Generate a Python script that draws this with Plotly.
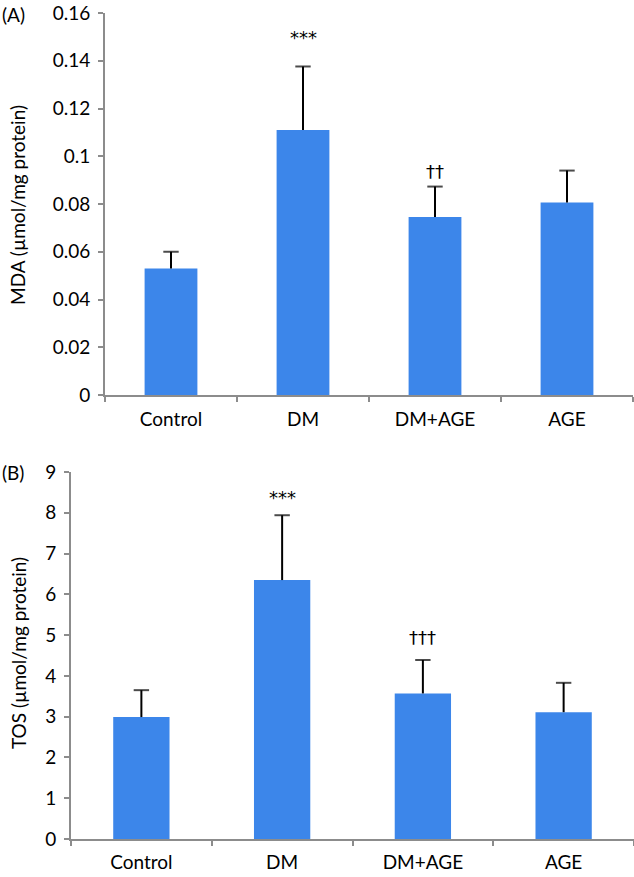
import plotly.graph_objects as go

categories = ["Control", "DM", "DM+AGE", "AGE"]

mda_mean = [0.053, 0.111, 0.0746, 0.0806]
mda_sd = [0.007, 0.0266, 0.0127, 0.0134]
mda_marks = ["", "***", "††", ""]
mda_ticks = [0, 0.02, 0.04, 0.06, 0.08, 0.1, 0.12, 0.14, 0.16]
mda_ticktext = ["0", "0.02", "0.04", "0.06", "0.08", "0.1", "0.12", "0.14", "0.16"]

tos_mean = [2.99, 6.35, 3.57, 3.11]
tos_sd = [0.66, 1.59, 0.82, 0.72]
tos_marks = ["", "***", "†††", ""]
tos_ticks = [0, 1, 2, 3, 4, 5, 6, 7, 8, 9]

W, H = 634, 877
FONT = "Lato"
SYMFONT = "DejaVu Sans"
BLUE = "#3C86EA"
GRAY = "#8C8C8C"

fig = go.Figure()


def add_panel(means, sds, xa, ya):
    fig.add_trace(go.Bar(
        x=categories, y=means, marker=dict(color=BLUE, line=dict(width=0)),
        xaxis=xa, yaxis=ya, showlegend=False, hoverinfo="skip"))
    ex, ey, sizes = [], [], []
    for c, m, s in zip(categories, means, sds):
        ex += [c, c, None]
        ey += [m, m + s, None]
        sizes += [0, 11, 0]
    fig.add_trace(go.Scatter(
        x=ex, y=ey, mode="lines+markers", xaxis=xa, yaxis=ya, showlegend=False,
        line=dict(color="black", width=2),
        marker=dict(symbol="line-ew", size=sizes, line=dict(color="black", width=2)),
        hoverinfo="skip"))


add_panel(mda_mean, mda_sd, "x", "y")
add_panel(tos_mean, tos_sd, "x2", "y2")


def px_x(p):
    return p / W


def px_y(p):
    return (H - p) / H


axis_common = dict(showline=True, linecolor=GRAY, linewidth=2, showgrid=False,
                   zeroline=False, ticks="outside", tickcolor=GRAY, ticklen=5,
                   tickwidth=2, automargin=False,
                   tickfont=dict(family=FONT, size=19, color="black"))

fig.update_layout(
    width=W, height=H, margin=dict(l=0, r=0, t=0, b=0),
    paper_bgcolor="white", plot_bgcolor="white", bargap=0.6,
    xaxis=dict(domain=[px_x(105), px_x(633)], anchor="y", type="category",
               range=[-0.5, 3.5], tickson="boundaries", ticklabelstandoff=6,
               **axis_common),
    yaxis=dict(domain=[px_y(395), px_y(13)], anchor="x", range=[0, 0.16],
               tickvals=mda_ticks, ticktext=mda_ticktext, ticklabelstandoff=4,
               **axis_common),
    xaxis2=dict(domain=[px_x(71), 1.0], anchor="y2", type="category",
                range=[-0.5, 3.5], tickson="boundaries", ticklabelstandoff=5,
                **axis_common),
    yaxis2=dict(domain=[px_y(839), px_y(472)], anchor="x2", range=[0, 9],
                tickvals=tos_ticks, ticklabelstandoff=4, **axis_common),
)

ann = []
shifts_a = [0, 29, 15, 0]
shifts_b = [0, 18, 22, 0]
for i, c in enumerate(categories):
    if mda_marks[i]:
        ann.append(dict(x=c, y=mda_mean[i] + mda_sd[i], xref="x", yref="y",
                        text=mda_marks[i], showarrow=False, yanchor="middle",
                        yshift=shifts_a[i], font=dict(family=SYMFONT, size=18, color="black")))
    if tos_marks[i]:
        ann.append(dict(x=c, y=tos_mean[i] + tos_sd[i], xref="x2", yref="y2",
                        text=tos_marks[i], showarrow=False, yanchor="middle",
                        yshift=shifts_b[i], font=dict(family=SYMFONT, size=18, color="black")))

ann.append(dict(x=px_x(18), y=px_y(205), xref="paper", yref="paper",
                xanchor="center", yanchor="middle",
                text="MDA (µmol/mg protein)", textangle=-90, showarrow=False,
                font=dict(family=FONT, size=19, color="black")))
ann.append(dict(x=px_x(18), y=px_y(653), xref="paper", yref="paper",
                xanchor="center", yanchor="middle",
                text="TOS (µmol/mg protein)", textangle=-90, showarrow=False,
                font=dict(family=FONT, size=19, color="black")))
ann.append(dict(x=0, y=px_y(14), xref="paper", yref="paper", xanchor="left",
                yanchor="middle", text="(A)", showarrow=False,
                font=dict(family=FONT, size=19, color="black")))
ann.append(dict(x=0, y=px_y(472), xref="paper", yref="paper", xanchor="left",
                yanchor="middle", text="(B)", showarrow=False,
                font=dict(family=FONT, size=19, color="black")))

fig.update_layout(annotations=ann)
fig.write_html("out.html", config={"displayModeBar": False},
               post_script="document.body.style.margin='0';document.body.style.padding='0';")
